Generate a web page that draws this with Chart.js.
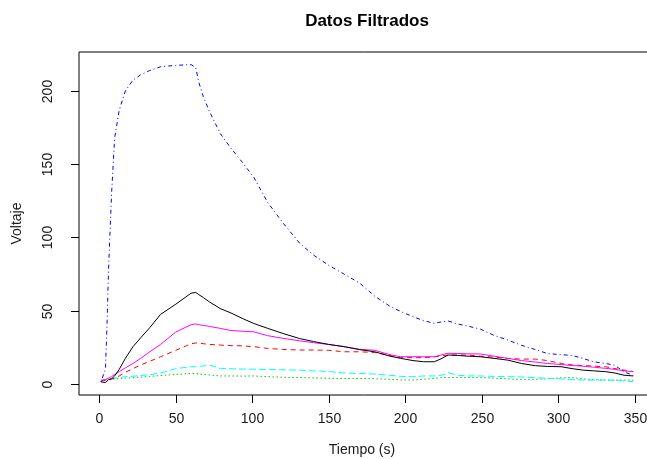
<!DOCTYPE html>
<html>
<head>
<meta charset="utf-8">
<script src="https://cdn.jsdelivr.net/npm/chart.js@4.4.1/dist/chart.umd.min.js"></script>
<style>
  html, body { margin: 0; padding: 0; background: #ffffff; overflow: hidden; }
  #wrap { width: 647px; height: 459px; }
</style>
</head>
<body>
<div id="wrap"><canvas id="c" width="647" height="459"></canvas></div>
<script>
// ---- Data ----
const chartTitle = "Datos Filtrados";
const xTitle = "Tiempo (s)";
const yTitle = "Voltaje";
const xTicks = [0, 50, 100, 150, 200, 250, 300, 350];
const yTicks = [0, 50, 100, 150, 200];

const times = [1, 4, 5, 6, 8, 10, 13, 17, 22, 27, 33, 40, 50, 60, 63, 65, 68, 72, 79, 86, 94, 101, 110, 120, 131, 140, 150, 160, 170, 180, 190, 197, 205, 212, 219, 224, 228, 234, 241, 249, 258, 267, 276, 285, 293, 302, 309, 316, 323, 331, 337, 343, 349];

const serieAzul = [1.5, 10, 40, 78, 130, 168, 187, 200, 207.5, 211, 214, 216.5, 217.5, 218, 216, 206, 196, 186, 171, 161, 150.6, 141, 124, 110, 96, 88, 81, 75, 69, 60, 53, 49.5, 46, 43.2, 41.4, 42.5, 43, 41, 39.5, 37.5, 33.2, 30, 26.4, 23.5, 20.8, 20, 19.5, 17.5, 15.2, 14, 12.8, 8.2, 6];
const serieNegra = [1.5, 1, 2, 3, 3.5, 5.5, 10, 17.5, 25.5, 31.5, 38.5, 47.5, 54.5, 62, 62.5, 61, 59, 56, 51.5, 48.5, 44.5, 41.3, 38, 34.5, 31, 29, 27, 25.5, 23.5, 22, 19, 17.5, 16, 15.2, 15.2, 17.5, 19.8, 19.5, 19, 18.6, 17.5, 16.3, 14, 12.5, 12, 11.8, 10.5, 9.5, 9, 8.4, 7.5, 6, 5.5];
const serieMagenta = [2.5, 3, 3.5, 4, 5, 6.5, 8.5, 11, 14, 17.5, 22, 27, 35.5, 40.5, 41, 40.5, 40, 39.3, 38, 36.5, 36, 35.6, 33, 31.2, 29.5, 28.2, 27, 25.5, 23.7, 23, 20, 18.6, 18.6, 18.6, 18.6, 20, 21, 20.8, 20.6, 20.5, 19, 17.5, 16, 15, 14, 13.3, 12.6, 12.2, 11.5, 10.7, 10, 9, 8.4];
const serieRoja = [2, 2.5, 3, 3, 3.5, 4, 5.5, 8, 10.5, 13, 15.5, 18.6, 23, 27.5, 28, 28, 27.5, 27, 26.6, 26.2, 26, 25.5, 24.3, 23.6, 23.2, 23.2, 23, 22, 22, 21.5, 19.5, 18, 18, 18, 18.5, 19.2, 19.8, 19.8, 19.8, 19, 18.3, 17.5, 17, 17, 16, 14, 13, 12.6, 12.2, 11.8, 10.5, 9.5, 8.4];
const serieCian = [2.5, 3, 3.5, 3.5, 3.8, 4, 4.5, 5, 5.3, 5.8, 6.3, 7.5, 10.5, 11.8, 11.8, 12, 12.3, 13, 10.7, 10.4, 10.2, 10.1, 9.9, 9.7, 9.5, 9, 8.5, 7.5, 7.2, 6.8, 6, 5.2, 5, 5.5, 5.5, 6, 7.7, 6, 5.5, 5.5, 5.2, 5, 4.8, 4.3, 3.9, 3.5, 3, 2.7, 2.7, 2.7, 2.5, 2, 1.6];
const serieVerde = [2.5, 2.8, 3, 3, 3.3, 3.5, 3.7, 4, 4.3, 4.7, 5.2, 5.8, 6.5, 7.3, 7, 6.8, 6.5, 6.2, 5.5, 5.5, 5.4, 5.5, 5, 4.6, 4.4, 4.2, 3.9, 3.8, 3.8, 3.6, 3.2, 2.8, 2.7, 3.2, 3.8, 4.4, 4.4, 4.4, 4.4, 4.4, 4, 3.5, 3, 3.2, 3.6, 4.2, 4.4, 3.5, 3, 2.7, 2.7, 2.7, 2.7];

// ---- Build datasets ----
const pts = (vals) => vals.map((v, i) => ({ x: times[i], y: v }));
const mk = (label, vals, color, dash) => ({
  label, data: pts(vals), borderColor: color, backgroundColor: color,
  borderWidth: 1, borderDash: dash, pointRadius: 0, tension: 0, fill: false
});

const datasets = [
  mk("Azul", serieAzul, "#0000FF", [1, 3, 4, 3]),
  mk("Negra", serieNegra, "#000000", []),
  mk("Magenta", serieMagenta, "#FF00FF", []),
  mk("Roja", serieRoja, "#FF0000", [5, 4]),
  mk("Cian", serieCian, "#00FFFF", [7, 3]),
  mk("Verde", serieVerde, "#00CD00", [1.5, 2.5])
];

const FONT = "'Liberation Sans', Arial, sans-serif";

const rAxes = {
  id: 'rAxes',
  afterDraw(chart) {
    const ctx = chart.ctx;
    const xs = chart.scales.x, ys = chart.scales.y;
    const a = chart.chartArea;
    ctx.save();
    // box (left, top, bottom)
    ctx.strokeStyle = "#000";
    ctx.lineWidth = 1;
    ctx.setLineDash([]);
    ctx.beginPath();
    ctx.moveTo(chart.width + 2, a.top);
    ctx.lineTo(a.left, a.top);
    ctx.lineTo(a.left, a.bottom);
    ctx.lineTo(chart.width + 2, a.bottom);
    ctx.stroke();

    ctx.fillStyle = "#1a1a1a";
    // x ticks
    ctx.font = "14px " + FONT;
    ctx.textAlign = "center";
    ctx.textBaseline = "middle";
    xTicks.forEach(t => {
      const px = Math.round(xs.getPixelForValue(t)) + 0.5;
      ctx.beginPath();
      ctx.moveTo(px, a.bottom);
      ctx.lineTo(px, a.bottom + 8);
      ctx.stroke();
      ctx.fillText(String(t), px, a.bottom + 24);
    });
    // y ticks (rotated labels)
    yTicks.forEach(t => {
      const py = Math.round(ys.getPixelForValue(t)) + 0.5;
      ctx.beginPath();
      ctx.moveTo(a.left - 8, py);
      ctx.lineTo(a.left, py);
      ctx.stroke();
      ctx.save();
      ctx.translate(a.left - 31, py);
      ctx.rotate(-Math.PI / 2);
      ctx.fillText(String(t), 0, 0);
      ctx.restore();
    });
    // titles
    const cx = (a.left + chart.width) / 2 + 1;
    ctx.font = "bold 17px " + FONT;
    ctx.fillStyle = "#000";
    ctx.fillText(chartTitle, 367, 21);
    ctx.font = "14px " + FONT;
    ctx.fillStyle = "#1a1a1a";
    ctx.fillText(xTitle, 362, 450);
    ctx.save();
    ctx.translate(17, (a.top + a.bottom) / 2);
    ctx.rotate(-Math.PI / 2);
    ctx.fillText(yTitle, 0, 0);
    ctx.restore();
    ctx.restore();
  }
};

new Chart(document.getElementById("c"), {
  type: "line",
  data: { datasets },
  options: {
    responsive: false,
    animation: false,
    layout: { padding: { left: 79, top: 52, right: 0, bottom: 64 } },
    plugins: { legend: { display: false }, tooltip: { enabled: false }, title: { display: false } },
    scales: {
      x: { type: "linear", min: -13.3, max: 358, display: false },
      y: { type: "linear", min: -7.5, max: 226.6, display: false }
    },
    elements: { line: { borderJoinStyle: "round" } }
  },
  plugins: [rAxes]
});
</script>
</body>
</html>
